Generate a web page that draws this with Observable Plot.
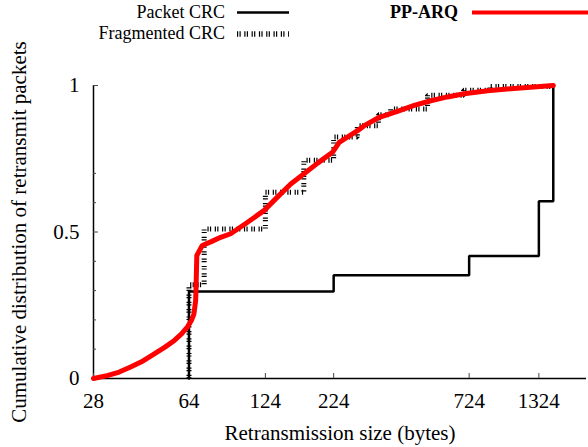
<!DOCTYPE html>
<html>
<head>
<meta charset="utf-8">
<script src="https://cdn.jsdelivr.net/npm/d3@7"></script>
<script src="https://cdn.jsdelivr.net/npm/@observablehq/plot@0.6"></script>
<style>
  body { margin: 0; background: #fff; font-family: "Liberation Serif", serif; }
  #wrap { position: relative; width: 588px; height: 447px; }
  #legend { position: absolute; left: 0; top: 0; width: 588px; height: 45px; font-size: 18px; color: #000; z-index: 2; pointer-events: none; }
  #legend .t { position: absolute; white-space: nowrap; line-height: 18px; }
  #legend svg { position: absolute; left: 0; top: 0; }
  #chart { position: absolute; left: 0; top: 0; }
</style>
</head>
<body>
<div id="wrap">
  <div id="chart"></div>
  <div id="legend">
    <span class="t" style="right:363px; top:3px;">Packet CRC</span>
    <span class="t" style="right:363px; top:24px;">Fragmented CRC</span>
    <span class="t" style="left:390px; top:3px; font-weight:bold;">PP-ARQ</span>
    <svg width="588" height="45">
      <line x1="237" x2="289" y1="12.5" y2="12.5" stroke="#000" stroke-width="2.5"/>
      <line x1="237" x2="289" y1="34" y2="34" stroke="#000" stroke-width="5.5" stroke-dasharray="1.2,1.3,1.2,3.6"/>
      <line x1="472" x2="588" y1="12.5" y2="12.5" stroke="#ff0000" stroke-width="4"/>
    </svg>
  </div>
</div>
<script>
// x tick values (bytes)
const xTicks = [28, 64, 124, 224, 724, 1324];
// y ticks
const yMajor = [0, 0.5, 1];
const yMajorLabels = ["0", "0.5", "1"];
const yMinor = [0.1, 0.2, 0.3, 0.4, 0.6, 0.7];

// PP-ARQ (smooth CDF)
const ppX = [28, 31.5, 35, 38.6, 43, 47.4, 52, 56.4, 60, 63.1, 65.5, 66.8, 67.8, 68, 68.5, 71.8, 78, 84.2, 91.8, 105, 122.5, 137.6, 154.5, 173.3, 195, 221.8, 235, 275.6, 291, 330, 389, 450, 519, 600, 693, 850, 1068, 1500];
const ppY = [0, 0.01, 0.022, 0.039, 0.06, 0.084, 0.107, 0.13, 0.152, 0.175, 0.2, 0.22, 0.266, 0.3, 0.42, 0.454, 0.468, 0.482, 0.494, 0.53, 0.573, 0.619, 0.664, 0.699, 0.735, 0.772, 0.806, 0.846, 0.862, 0.89, 0.912, 0.932, 0.948, 0.961, 0.972, 0.982, 0.99, 1.0];

// Packet CRC (step CDF)
const pktX = [64, 64, 224, 724, 1324, 1500];
const pktY = [0, 0.297, 0.352, 0.418, 0.605, 1.0];

// Fragmented CRC (step CDF)
const fragX = [64, 64, 73, 124, 173, 224, 275, 330, 367, 505, 690, 870, 1500];
const fragY = [0, 0.32, 0.51, 0.636, 0.745, 0.824, 0.863, 0.9, 0.92, 0.967, 0.984, 0.997, 1.0];

const pp = ppX.map((x, i) => ({x, y: ppY[i]}));
const pkt = pktX.map((x, i) => ({x, y: pktY[i]}));
const frag = fragX.map((x, i) => ({x, y: fragY[i]}));

const chart = Plot.plot({
  width: 588,
  height: 447,
  marginTop: 85,
  marginBottom: 69,
  marginLeft: 93,
  marginRight: 2,
  x: {type: "log", domain: [28, 2000]},
  y: {domain: [0, 1]},
  style: {fontFamily: "Liberation Serif, serif", fontSize: "21px", color: "#000", background: "#fff"},
  marks: [
    Plot.ruleY([0], {stroke: "#000", strokeWidth: 1.5}),
    Plot.ruleX([28], {y1: 0, y2: 1, stroke: "#000", strokeWidth: 1.5}),
    Plot.axisX(xTicks, {tickSize: -5, tickFormat: () => "", label: null, stroke: "#444"}),
    Plot.axisX(xTicks, {ticks: 1000, tickSize: 0, tickPadding: 15, tickFormat: d => String(d), label: "Retransmission size (bytes)", labelAnchor: "center", labelOffset: 61, labelArrow: "none", fontSize: 21}),
    Plot.axisY(yMajor, {tickSize: -5, tickFormat: () => "", label: null, stroke: "#444"}),
    Plot.axisY(yMinor, {tickSize: -3, tickFormat: () => "", label: null, stroke: "#444"}),
    Plot.axisY(yMajor, {tickSize: 0, tickPadding: 14, tickFormat: (d, i) => yMajorLabels[i], label: "Cumulative distribution of retransmit packets", labelAnchor: "center", labelOffset: 82, labelArrow: "none", fontSize: 21}),
    Plot.line(frag, {x: "x", y: "y", curve: "step-after", stroke: "#000", strokeWidth: 5, strokeDasharray: "1.2,1.3,1.2,3.6", strokeLinecap: "butt", strokeLinejoin: "miter"}),
    Plot.line(pkt, {x: "x", y: "y", curve: "step-after", stroke: "#000", strokeWidth: 2.5, strokeLinejoin: "miter"}),
    Plot.line(pp, {x: "x", y: "y", curve: "linear", stroke: "#ff0000", strokeWidth: 5})
  ]
});
document.getElementById("chart").appendChild(chart);
</script>
</body>
</html>
